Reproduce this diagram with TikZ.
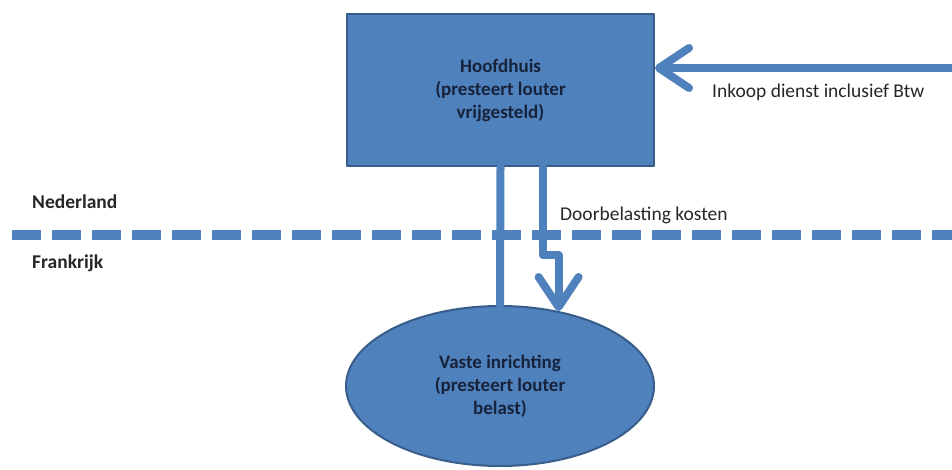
\documentclass[tikz,border=0pt]{standalone}
\usepackage{fontspec}
\setmainfont{Carlito}
\usetikzlibrary{arrows.meta,shapes.geometric}
\definecolor{vakblauw}{HTML}{4F81BD}
\definecolor{randblauw}{HTML}{385D8A}
\definecolor{vaktekst}{HTML}{17223B}
\definecolor{labeltekst}{HTML}{262626}
\begin{document}
\begin{tikzpicture}[x=1pt,y=-1pt,line cap=round,line join=round,
  font=\fontsize{19.5}{23}\selectfont,
  vak/.style={draw=randblauw,line width=2pt,fill=vakblauw,text=vaktekst,
    font=\fontsize{19}{23}\selectfont\bfseries,align=center},
  conn/.style={draw=vakblauw,line width=8pt},
  pijl/.style={-{Straight Barb[length=30pt,width=40pt,round]}},
  grens/.style={draw=vakblauw,line width=10pt,line cap=butt,
    dash pattern=on 29pt off 11pt},
  lbl/.style={text=labeltekst,anchor=west,inner sep=0pt}]
  \useasboundingbox (0,0) rectangle (952,470);
  % border between the two countries
  \coordinate (grenswest) at (12,235);
  \coordinate (grensoost) at (952,235);
  \draw[grens] (grenswest)--(grensoost);
  \node[lbl,font=\fontsize{19.5}{23}\selectfont\bfseries] (nl) at (32,202) {Nederland};
  \node[lbl,font=\fontsize{19.5}{23}\selectfont\bfseries] (fr) at (32,263) {Frankrijk};
  % head office and permanent establishment
  \node[vak,rectangle,minimum width=307pt,minimum height=152pt] (hoofdhuis)
    at (500.5,90) {Hoofdhuis\\(presteert louter\\vrijgesteld)};
  \node[vak,ellipse,minimum width=308pt,minimum height=160pt] (vaste)
    at (500,386) {Vaste inrichting\\(presteert louter\\belast)};
  % incoming purchase
  \coordinate (inkoop) at (960,68);
  \draw[conn,pijl] (inkoop)--(hoofdhuis.east |- inkoop);
  \node[lbl] (inkooplbl) at (712,92) {Inkoop dienst inclusief Btw};
  % links between the two
  \draw[conn] (hoofdhuis.south)--(vaste.north);
  \draw[conn,pijl] ([xshift=42pt]hoofdhuis.south)--++(0,88) -| (vaste.52);
  \node[lbl] (doorbel) at (560,215) {Doorbelasting kosten};
\end{tikzpicture}
\end{document}
